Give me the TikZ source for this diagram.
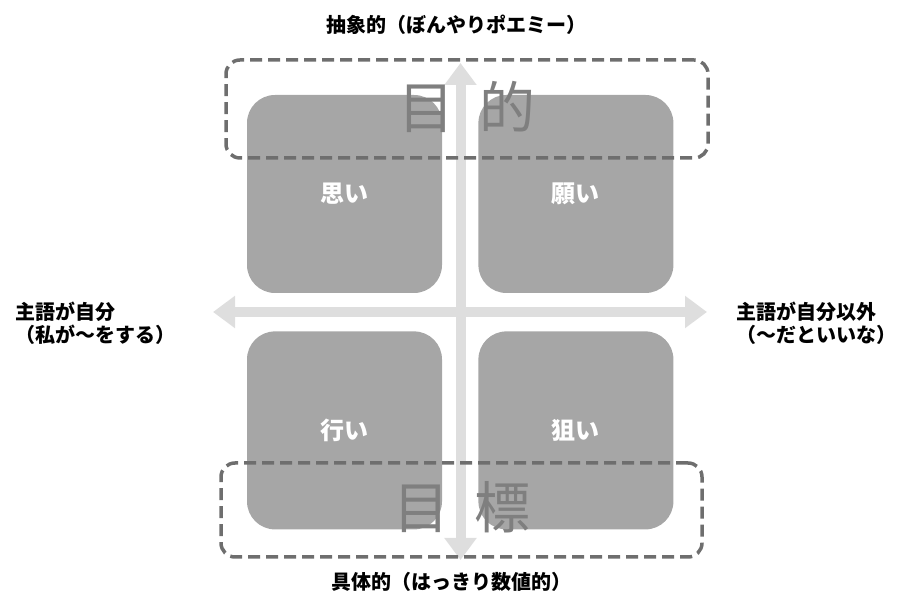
\documentclass[tikz,border=0pt]{standalone}
\usepackage{fontspec}
\setmainfont{Noto Sans CJK JP}
\usepackage{tikz}
\usetikzlibrary{arrows.meta,positioning}
\definecolor{boxgrey}{HTML}{A6A6A6}
\definecolor{axisgrey}{HTML}{DEDEDE}
\definecolor{framegrey}{HTML}{6E6E6E}
\definecolor{wordgrey}{HTML}{7F7F7F}
\tikzset{quadrant/.style={
    % The shape:
    rectangle, rounded corners=28pt,
    % The size:
    minimum width=195pt,
    minimum height=198pt,
    % The filling:
    fill=boxgrey,
    % Font
    font=\fontsize{24pt}{28pt}\selectfont\bfseries,
    text=white,
    },
    goalframe/.style={
    rectangle, rounded corners=14pt,
    draw=framegrey,
    line width=3.5pt,
    dash pattern=on 12pt off 6pt,
    },
    bigword/.style={
    font=\fontsize{56pt}{60pt}\selectfont,
    text=wordgrey,
    },
    axislabel/.style={
    font=\fontsize{20pt}{23pt}\selectfont\bfseries,
    align=left,
    inner sep=0pt,
    },
    axis/.style={
    draw=axisgrey,
    line width=10pt,
    {Triangle[width=31pt,length=22pt]}-{Triangle[width=31pt,length=22pt]},
    },
}

\begin{document}
\begin{tikzpicture}[x=1pt, y=1pt, node distance = 38pt and 36pt]
    \useasboundingbox (0,0) rectangle (912,612);

    % the two axes
    \coordinate (axtop)    at (460.5,549);
    \coordinate (axbottom) at (460.5,52);
    \coordinate (axleft)   at (213,300);
    \coordinate (axright)  at (707,300);
    \draw[axis] (axbottom) -- (axtop);
    \draw[axis] (axleft) -- (axright);

    % the four quadrants
    \node (omoi)   [quadrant] at (344.5,418) {思い};
    \node (negai)  [quadrant,right=of omoi]  {願い};
    \node (okonai) [quadrant,below=of omoi]  {行い};
    \node (nerai)  [quadrant,right=of okonai] {狙い};

    % 目的 / 目標
    \node (mokuteki) [bigword] at (467,505) {目\hspace{0.45em}的};
    \node (mokuhyo)  [bigword] at (462,105) {目\hspace{0.45em}標};
    \node (topframe)    [goalframe,minimum width=482pt,minimum height=98pt] at (467,503) {};
    \node (bottomframe) [goalframe,minimum width=481pt,minimum height=94pt] at (461.5,102) {};

    % axis labels
    \node (abstract) [axislabel] at (456,587) {抽象的（ぼんやりポエミー）};
    \node (concrete) [axislabel] at (451.5,30) {具体的（はっきり数値的）};
    \node (self)     [axislabel,anchor=west] at (15,289) {主語が自分\\（私が〜をする）};
    \node (other)    [axislabel,anchor=west] at (736,289) {主語が自分以外\\（〜だといいな）};
\end{tikzpicture}
\end{document}
